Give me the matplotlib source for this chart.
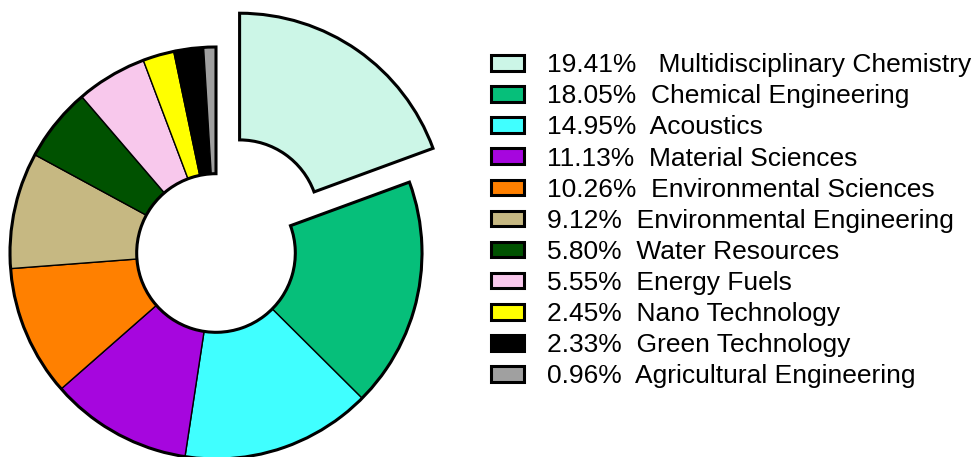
import matplotlib
matplotlib.use("Agg")
import matplotlib.pyplot as plt
from matplotlib.patches import Wedge

plt.rcParams['font.family'] = ['Liberation Sans', 'DejaVu Sans']

# Share of publications by research area (%)
categories = [" Multidisciplinary Chemistry", "Chemical Engineering", "Acoustics",
              "Material Sciences", "Environmental Sciences", "Environmental Engineering",
              "Water Resources", "Energy Fuels", "Nano Technology",
              "Green Technology", "Agricultural Engineering"]
shares = [19.41, 18.05, 14.95, 11.13, 10.26, 9.12, 5.80, 5.55, 2.45, 2.33, 0.96]
colors = ["#CCF6E7", "#06BF7A", "#40FFFF", "#A606DE", "#FF8000", "#C6B882",
          "#005200", "#F8C8EC", "#FFFF00", "#000000", "#A0A0A0"]
explode = [0.2] + [0.0] * (len(shares) - 1)

W, H = 979, 457
cx, cy, R = 216, 253, 206  # pie centre and outer radius in pixels

fig = plt.figure(figsize=(W / 100, H / 100), dpi=100)
ax = fig.add_axes([0, 0, 1, 1])

wedges, _ = ax.pie(shares, colors=colors, explode=explode, startangle=90,
                   counterclock=False, radius=1.0,
                   wedgeprops=dict(width=0.615, edgecolor="black", linewidth=1.0))
wedges[0].set_linewidth(2.2)

# thicker outline around the remaining ring
t1 = min(w.theta1 for w in wedges[1:])
t2 = max(w.theta2 for w in wedges[1:])
ax.add_patch(Wedge((0, 0), 1.0, t1, t2, width=0.615, fill=False,
                   edgecolor="black", linewidth=2.2, zorder=5))

ax.set_xlim(-cx / R, (W - cx) / R)
ax.set_ylim(-(H - cy) / R, cy / R)
ax.set_aspect("auto")
ax.axis("off")

labels = [f"{p:.2f}%  {c}" for p, c in zip(shares, categories)]
leg = fig.legend(wedges, labels, loc="upper left",
                 bbox_to_anchor=(478 / W, 1 - 40 / H), frameon=False,
                 fontsize=19, borderpad=0, handlelength=1.25, handleheight=0.53,
                 handletextpad=0.85, labelspacing=0.27)
for h in leg.legend_handles:
    h.set_linewidth(2.2)

fig.savefig("out.png", dpi=100)
